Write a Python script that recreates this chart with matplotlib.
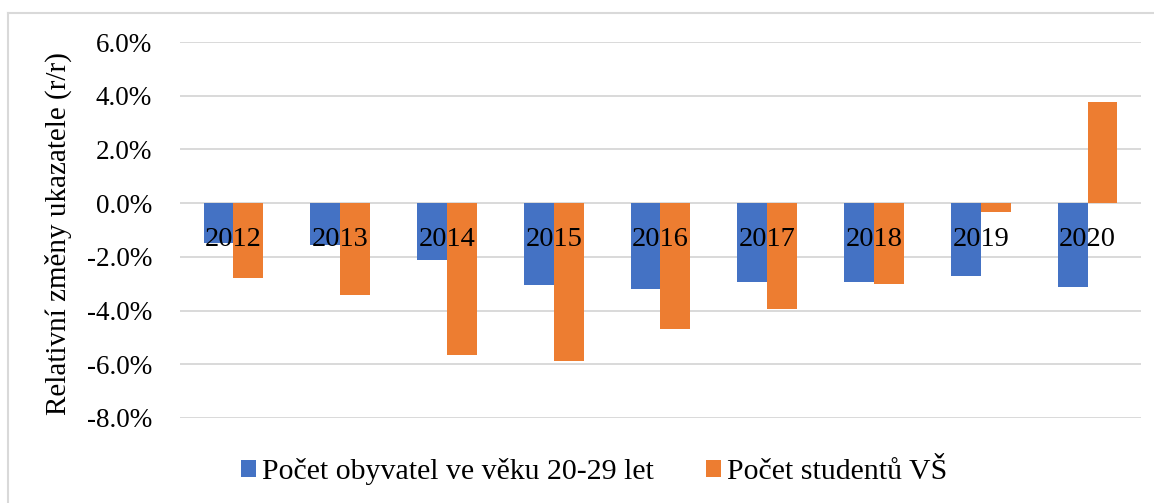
import numpy as np
import matplotlib
matplotlib.use("Agg")
import matplotlib.pyplot as plt
from matplotlib.lines import Line2D
from matplotlib.ticker import FuncFormatter

# data (year-on-year change, %)
roky = ['2012', '2013', '2014', '2015', '2016', '2017', '2018', '2019', '2020']
obyvatele = [-1.49, -1.56, -2.11, -3.03, -3.19, -2.92, -2.95, -2.71, -3.14]
studenti = [-2.80, -3.43, -5.66, -5.86, -4.69, -3.96, -3.00, -0.33, 3.75]

plt.rcParams['font.family'] = ['Liberation Serif', 'DejaVu Serif']

fig = plt.figure(figsize=(11.54, 5.03), dpi=100)
ax = fig.add_axes([0.156, 0.169, 0.8327, 0.7475])

x = np.arange(len(roky))
w = 0.28
ax.bar(x - w / 2, obyvatele, w, color='#4472C4', label='Počet obyvatel ve věku 20-29 let', zorder=3)
ax.bar(x + w / 2, studenti, w, color='#ED7D31', label='Počet studentů VŠ', zorder=3)

ax.set_xlim(-0.5, len(roky) - 0.5)
ax.set_ylim(-8, 6)
ax.set_yticks(np.arange(-8, 7, 2))
ax.yaxis.set_major_formatter(FuncFormatter(lambda v, p: f'{v:.1f}%'))
ax.grid(axis='y', color='#d9d9d9', linewidth=1.4, zorder=0)
ax.set_xticks([])
for s in ax.spines.values():
    s.set_visible(False)
ax.tick_params(axis='y', length=0, pad=20, labelsize=19.5)

# category labels sit just under the zero line, on top of the bars
for xi, rok in zip(x, roky):
    ax.annotate(rok, (xi, 0), xytext=(0, -31), textcoords='offset points',
                ha='center', va='baseline', fontsize=20.5, zorder=5)

ax.set_ylabel('Relativní změny ukazatele (r/r)', fontsize=21)
ax.yaxis.set_label_coords(-0.112, 0.49)

ax.legend(loc='center', bbox_to_anchor=(0.515, 0.062), bbox_transform=fig.transFigure,
          ncol=2, frameon=False, fontsize=21.5, handlelength=0.5, handleheight=0.5,
          handletextpad=0.2, columnspacing=1.75)

# light frame round the chart (top and left visible)
W, H = 1154, 503
fig.add_artist(Line2D([8 / W, 1], [1 - 13 / H, 1 - 13 / H], transform=fig.transFigure,
                      color='#d9d9d9', linewidth=1.5))
fig.add_artist(Line2D([8 / W, 8 / W], [0, 1 - 13 / H], transform=fig.transFigure,
                      color='#d9d9d9', linewidth=1.5))

fig.savefig('out.png', dpi=100)
